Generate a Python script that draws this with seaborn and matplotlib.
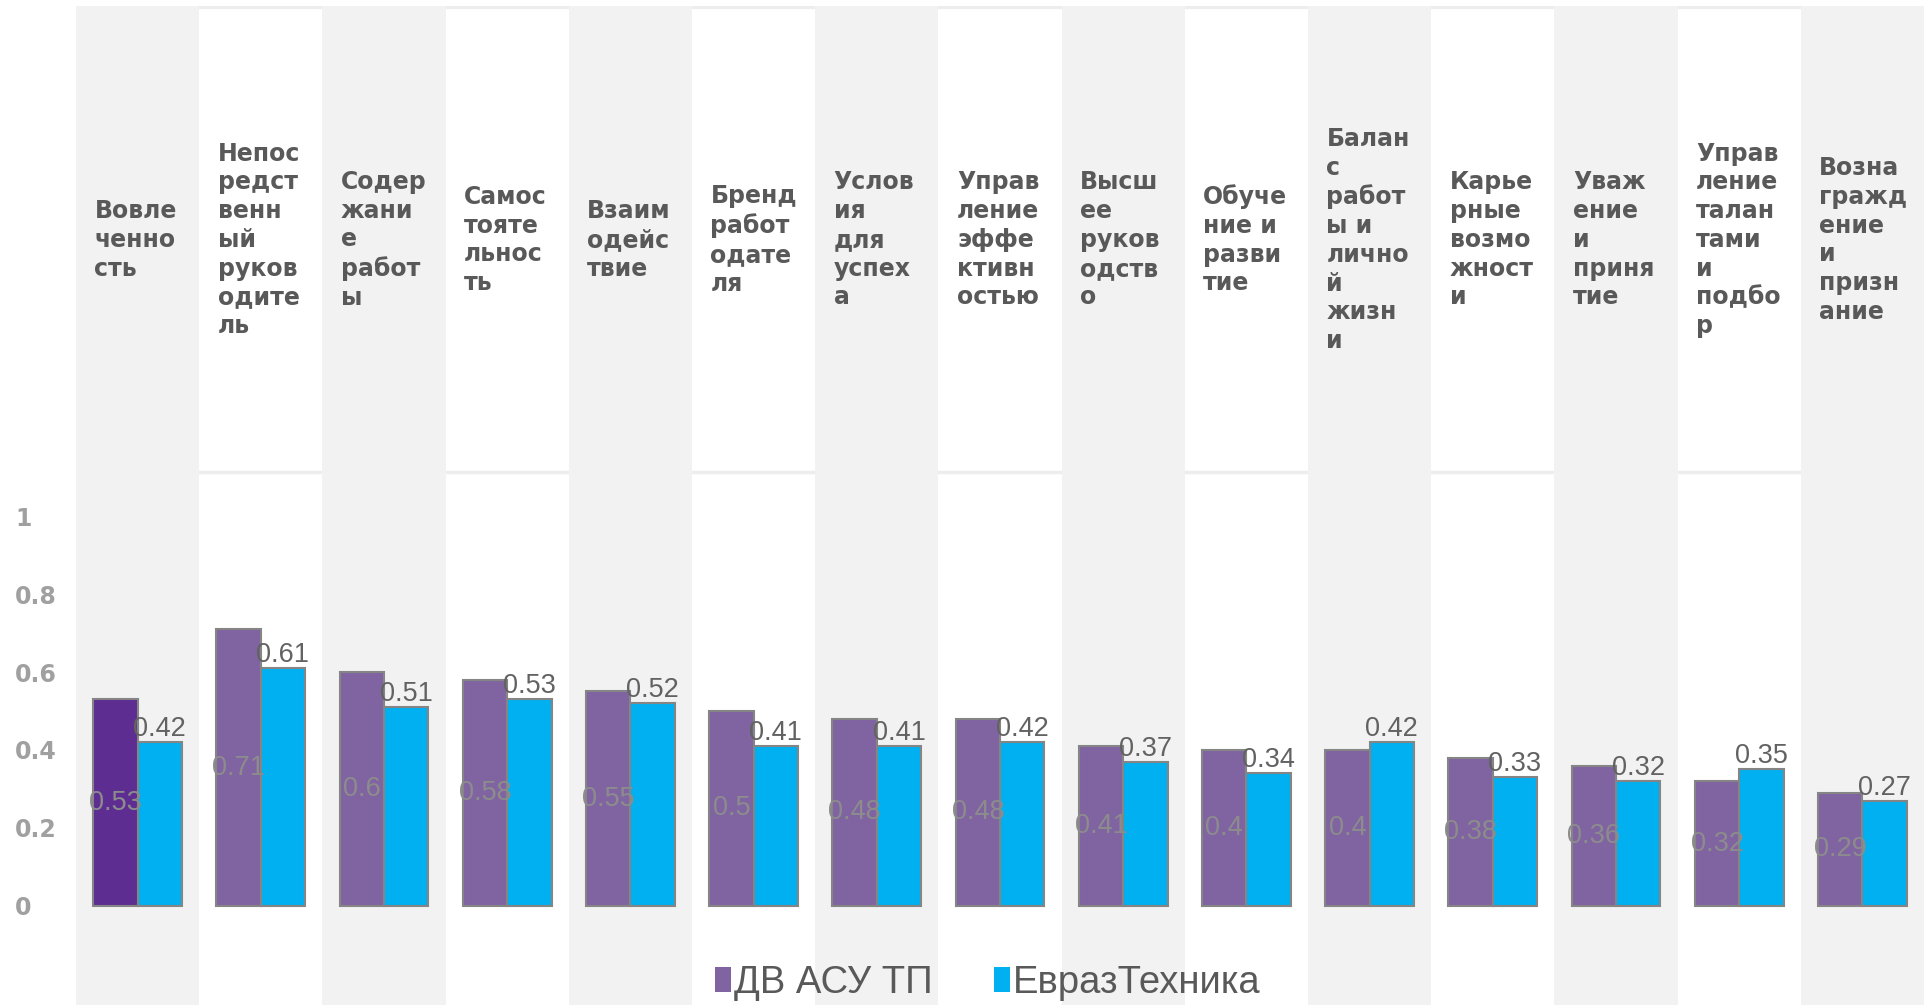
import pandas as pd
import matplotlib
matplotlib.use("Agg")
import matplotlib.pyplot as plt
import seaborn as sns

# Данные
categories = [
    "Вовле\nченно\nсть",
    "Непос\nредст\nвенн\nый\nруков\nодите\nль",
    "Содер\nжани\nе\nработ\nы",
    "Самос\nтояте\nльнос\nть",
    "Взаим\nодейс\nтвие",
    "Бренд\nработ\nодате\nля",
    "Услов\nия\nдля\nуспех\nа",
    "Управ\nление\nэффе\nктивн\nостью",
    "Высш\nее\nруков\nодств\nо",
    "Обуче\nние и\nразви\nтие",
    "Балан\nс\nработ\nы и\nлично\nй\nжизн\nи",
    "Карье\nрные\nвозмо\nжност\nи",
    "Уваж\nение\nи\nприня\nтие",
    "Управ\nление\nталан\nтами\nи\nподбо\nр",
    "Возна\nгражд\nение\nи\nпризн\nание",
]
series = ["ДВ АСУ ТП", "ЕвразТехника"]
dv_asu_tp = [0.53, 0.71, 0.6, 0.58, 0.55, 0.5, 0.48, 0.48, 0.41, 0.4, 0.4, 0.38, 0.36, 0.32, 0.29]
evraz_tehnika = [0.42, 0.61, 0.51, 0.53, 0.52, 0.41, 0.41, 0.42, 0.37, 0.34, 0.42, 0.33, 0.32, 0.35, 0.27]
yticks = [0, 0.2, 0.4, 0.6, 0.8, 1]
ytick_labels = ["0", "0.2", "0.4", "0.6", "0.8", "1"]

cat_ids = [str(i) for i in range(len(categories))]
df = pd.DataFrame({
    "cat": cat_ids * 2,
    "series": [series[0]] * len(cat_ids) + [series[1]] * len(cat_ids),
    "value": dv_asu_tp + evraz_tehnika,
})

sns.set_style("white")

W, H = 1931, 1005
fig = plt.figure(figsize=(W / 100, H / 100), dpi=100)
ax = fig.add_axes([76 / W, 0, 1848 / W, 999 / H])

purple = "#8064A2"
blue = "#00B0F0"

# полосы фона
for i in range(len(categories)):
    if i % 2 == 0:
        ax.axvspan(i - 0.5, i + 0.5, color="#f2f2f2", zorder=1, lw=0)

sns.barplot(data=df, x="cat", y="value", hue="series", hue_order=series,
            order=cat_ids, palette=[purple, blue], width=0.72,
            edgecolor="#858585", linewidth=1.5, saturation=1, ax=ax, zorder=3)

# первый столбец темнее
ax.containers[0][0].set_facecolor("#5e2d92")

ax.set_xlim(-0.5, len(categories) - 0.5)
ax.set_ylim(-0.254, 2.308)
ax.axhline(1.113, color="#ededed", lw=2.5, zorder=0.5)
ax.axhline(2.305, color="#ededed", lw=3, zorder=0.5)

# подписи значений
ax.bar_label(ax.containers[0], labels=[f"{v:g}" for v in dv_asu_tp],
             label_type="center", color="#8c8c8c", fontsize=19.5,
             family="Liberation Sans", zorder=4)
ax.bar_label(ax.containers[1], labels=[f"{v:g}" for v in evraz_tehnika],
             label_type="edge", padding=0, color="#626262", fontsize=19.5,
             family="Liberation Sans", zorder=4)

# заголовки категорий
for i, lab in enumerate(categories):
    ax.text(i - 0.5 + 0.15, 1.708, lab, ha="left", va="center",
            fontsize=17, fontweight="bold", color="#595959",
            family="DejaVu Sans", linespacing=1.25)

ax.set_xticks([])
ax.set_yticks(yticks)
ax.set_yticklabels(ytick_labels, fontsize=17, fontweight="bold",
                   color="#a0a0a0", family="DejaVu Sans")
for t in ax.get_yticklabels():
    t.set_horizontalalignment("left")
ax.tick_params(axis="y", length=0, pad=44)
ax.set_xlabel("")
ax.set_ylabel("")
for s in ax.spines.values():
    s.set_visible(False)

leg = ax.legend(loc="center", bbox_to_anchor=(0.4935, 0.022), ncol=2,
                frameon=False, handlelength=0.42, handleheight=0.62,
                handletextpad=0.08, columnspacing=1.6,
                prop={"family": "Liberation Sans", "size": 27.5})
for t in leg.get_texts():
    t.set_color("#595959")
for h in leg.legend_handles:
    h.set_edgecolor("none")

fig.savefig("out.png", dpi=100)
